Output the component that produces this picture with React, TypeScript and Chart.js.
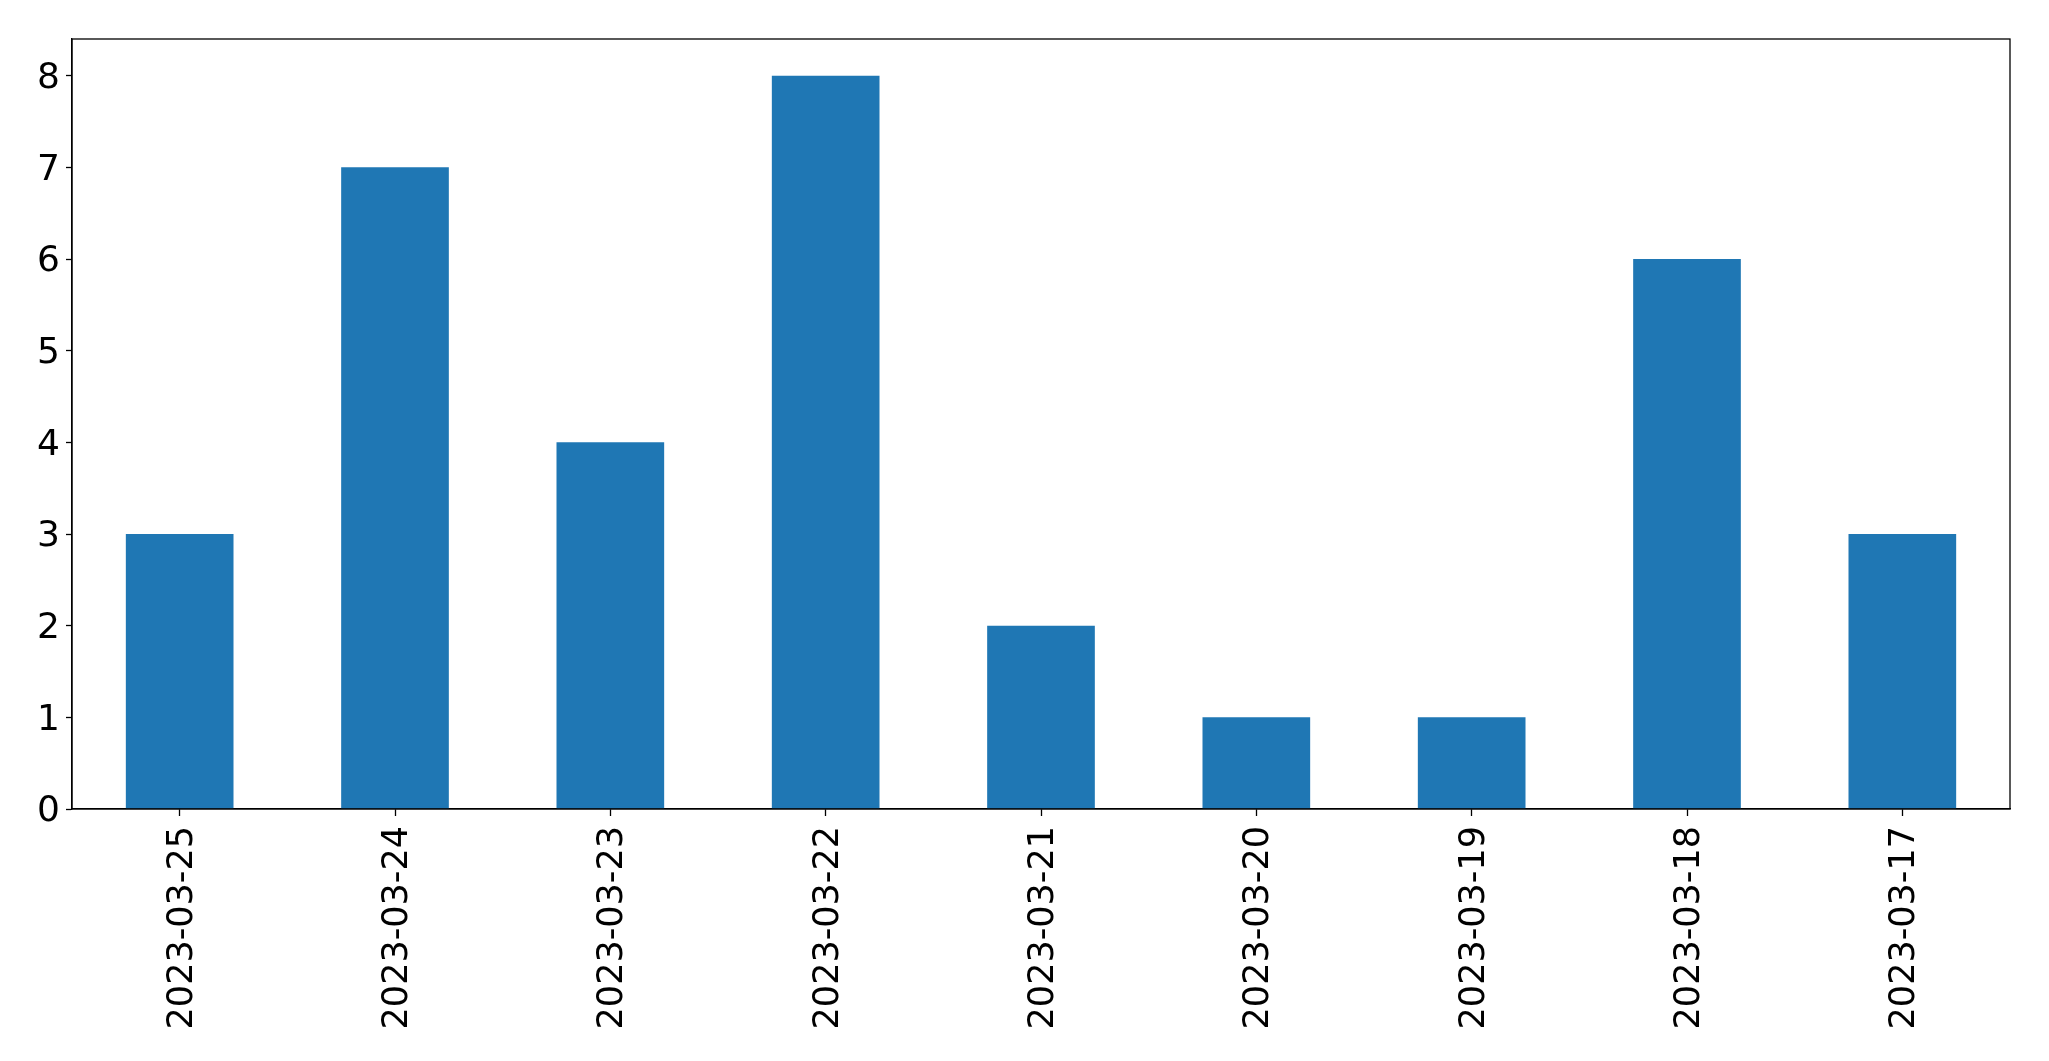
import React, { useEffect, useRef } from "react";
import { Chart, registerables } from "chart.js";

Chart.register(...registerables);

const categories = [
  "2023-03-25",
  "2023-03-24",
  "2023-03-23",
  "2023-03-22",
  "2023-03-21",
  "2023-03-20",
  "2023-03-19",
  "2023-03-18",
  "2023-03-17",
];
const counts = [3, 7, 4, 8, 2, 1, 1, 6, 3];
const yTicks = [0, 1, 2, 3, 4, 5, 6, 7, 8];
const yMax = 8.4;

const W = 2049;
const H = 1061;

const framePlugin = {
  id: "frame",
  afterDraw(chart: any) {
    const { ctx, chartArea } = chart;
    ctx.save();
    ctx.strokeStyle = "#000";
    ctx.lineWidth = 1.3;
    ctx.strokeRect(chartArea.left, chartArea.top, chartArea.right - chartArea.left, chartArea.bottom - chartArea.top);
    ctx.restore();
  },
};

export default function App() {
  const ref = useRef<HTMLCanvasElement | null>(null);
  useEffect(() => {
    document.body.style.margin = "0";
    const canvas = ref.current!;
    const chart = new Chart(canvas, {
      type: "bar",
      data: {
        labels: categories,
        datasets: [
          {
            data: counts,
            backgroundColor: "#1f77b4",
            borderWidth: 0,
            barPercentage: 0.5,
            categoryPercentage: 1.0,
          },
        ],
      },
      options: {
        animation: false,
        responsive: false,
        maintainAspectRatio: false,
        devicePixelRatio: 1,
        layout: { padding: { top: 39, right: 39, bottom: 0, left: 0 } },
        plugins: {
          legend: { display: false },
          tooltip: { enabled: false },
          title: { display: false },
        },
        scales: {
          x: {
            grid: {
              display: true,
              drawOnChartArea: false,
              drawTicks: true,
              tickLength: 7,
              color: "#000",
              tickWidth: 1.3,
              offset: false,
            },
            border: { display: true, color: "#000", width: 1.3 },
            ticks: {
              color: "#000",
              font: { family: "'DejaVu Sans'", size: 35 },
              minRotation: 90,
              maxRotation: 90,
              padding: 10,
              labelOffset: 3,
              autoSkip: false,
            },
            afterFit(scale: any) {
              scale.height = 252;
            },
          },
          y: {
            min: 0,
            max: yMax,
            afterBuildTicks(scale: any) {
              scale.ticks = yTicks.map((v) => ({ value: v }));
            },
            grid: {
              display: true,
              drawOnChartArea: false,
              drawTicks: true,
              tickLength: 6,
              color: "#000",
              tickWidth: 1.3,
            },
            border: { display: true, color: "#000", width: 1.3 },
            ticks: {
              color: "#000",
              font: { family: "'DejaVu Sans'", size: 36 },
              padding: 6,
              labelOffset: 3,
            },
            afterFit(scale: any) {
              scale.width = 72;
            },
          },
        },
      },
      plugins: [framePlugin],
    });
    return () => chart.destroy();
  }, []);
  return (
    <div style={{ position: "fixed", left: 0, top: 0, width: W, height: H, background: "#fff" }}>
      <canvas ref={ref} width={W} height={H} style={{ width: W, height: H, display: "block" }} />
    </div>
  );
}
